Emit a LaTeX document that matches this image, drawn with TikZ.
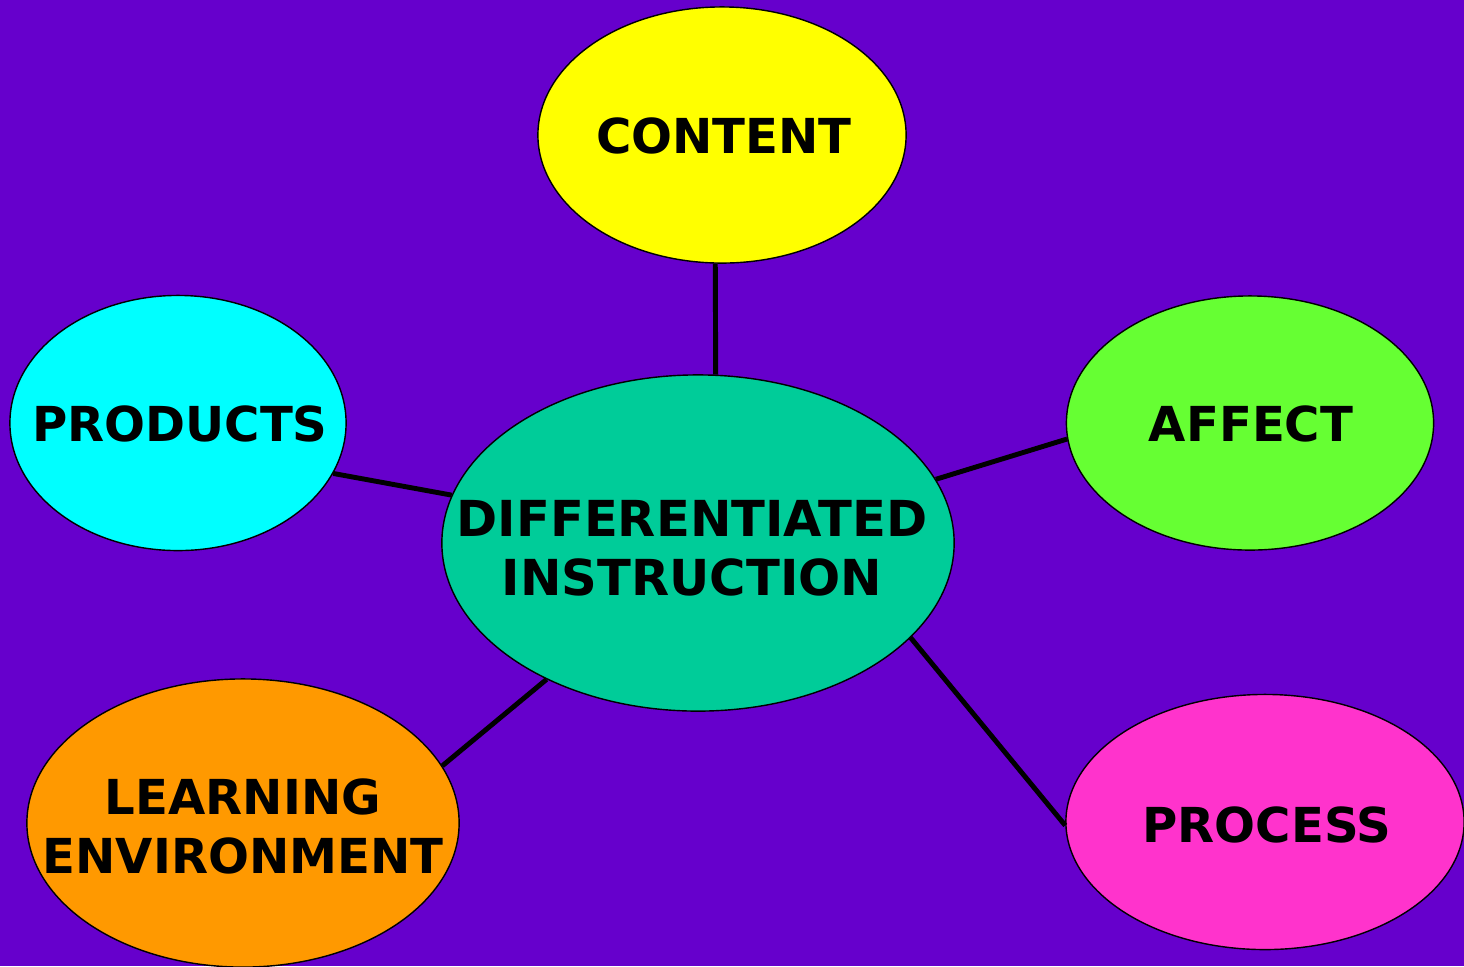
\documentclass[tikz,border=0pt]{standalone}
\usepackage{fontspec}
\setmainfont{DejaVu Sans}
\usetikzlibrary{shapes.geometric}
\definecolor{bgpurple}{HTML}{6600CC}
\definecolor{cyellow}{HTML}{FFFF00}
\definecolor{ccyan}{HTML}{00FFFF}
\definecolor{cgreen}{HTML}{66FF33}
\definecolor{cteal}{HTML}{00CC99}
\definecolor{corange}{HTML}{FF9900}
\definecolor{cmagenta}{HTML}{FF33CC}
\tikzset{
  blob/.style={ellipse, draw=black, line width=0.4pt, inner sep=0pt},
  lbl/.style={font=\fontsize{13.7}{16.8}\selectfont\bfseries, align=center, inner sep=0pt},
  biglbl/.style={lbl, font=\fontsize{14.1}{16.8}\selectfont\bfseries},
  link/.style={draw=black, line width=1.4pt}
}
\begin{document}
\begin{tikzpicture}[x=0.01cm, y=-0.01cm]
\fill[bgpurple] (0,0) rectangle (1464,966);
\useasboundingbox (0,0) rectangle (1464,966);
\begin{scope}
\clip (0,0) rectangle (1464,966);
\node[blob, fill=cyellow, minimum width=3.68cm, minimum height=2.56cm] (content) at (722,135) {};
\node[blob, fill=ccyan, minimum width=3.36cm, minimum height=2.55cm] (products) at (178,423) {};
\node[blob, fill=cgreen, minimum width=3.67cm, minimum height=2.54cm] (affect) at (1250,423) {};
\node[blob, fill=cteal, minimum width=5.12cm, minimum height=3.36cm] (di) at (698,543) {};
\node[blob, fill=corange, minimum width=4.32cm, minimum height=2.88cm] (learn) at (243,823) {};
\node[blob, fill=cmagenta, minimum width=3.98cm, minimum height=2.55cm] (process) at (1265,822) {};

\draw[link] (content.-93) -- (di.84);
\draw[link] (products.-18.5) -- (di.169);
\draw[link] (affect.185) -- (di.15);
\draw[link] (learn.16) -- (di.-138);
\draw[link] (process.181) -- (di.-24.6);

\node[lbl] (tcontent) at (724,136) {CONTENT};
\node[lbl] (tproducts) at (180,424) {PRODUCTS};
\node[lbl] (taffect) at (1251,424) {AFFECT};
\node[biglbl] (tdi) at (692,548) {DIFFERENTIATED\\INSTRUCTION};
\node[lbl] (tlearn) at (243,826) {LEARNING\hspace{0.8em}\\ENVIRONMENT};
\node[lbl] (tprocess) at (1267,825) {PROCESS};
\end{scope}
\end{tikzpicture}
\end{document}
